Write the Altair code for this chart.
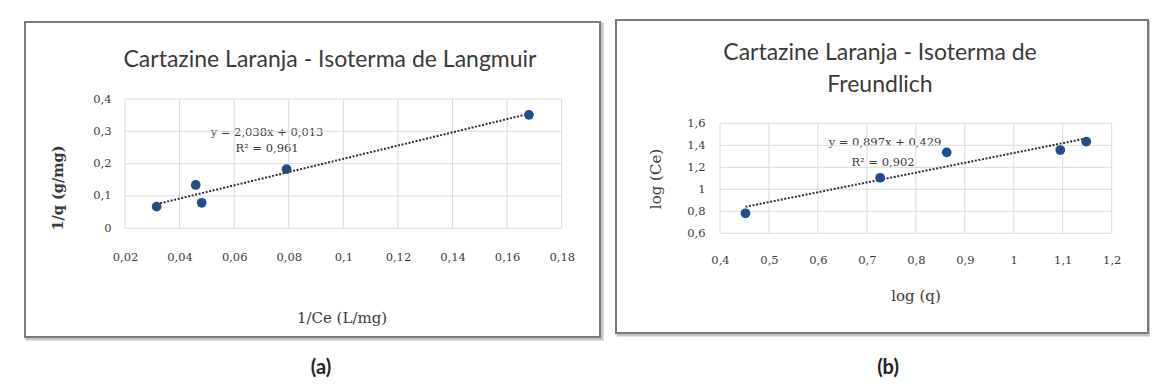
import altair as alt
import pandas as pd

# ---------------- (a) Langmuir ----------------
lang_inv_ce = [0.0316, 0.0459, 0.0481, 0.0792, 0.168]
lang_inv_q = [0.067, 0.134, 0.079, 0.183, 0.351]
lang_x_ticks = [0.02, 0.04, 0.06, 0.08, 0.1, 0.12, 0.14, 0.16, 0.18]
lang_y_ticks = [0, 0.1, 0.2, 0.3, 0.4]
lang_title = "Cartazine Laranja - Isoterma de Langmuir"
lang_xlabel = "1/Ce (L/mg)"
lang_ylabel = "1/q (g/mg)"
lang_eq = "y = 2,038x + 0,013"
lang_r2 = "R² = 0,961"

# ---------------- (b) Freundlich ----------------
fr_log_q = [0.452, 0.727, 0.863, 1.095, 1.148]
fr_log_ce = [0.782, 1.105, 1.336, 1.357, 1.433]
fr_x_ticks = [0.4, 0.5, 0.6, 0.7, 0.8, 0.9, 1.0, 1.1, 1.2]
fr_y_ticks = [0.6, 0.8, 1.0, 1.2, 1.4, 1.6]
fr_title_1 = "Cartazine Laranja - Isoterma de"
fr_title_2 = "Freundlich"
fr_xlabel = "log (q)"
fr_ylabel = "log (Ce)"
fr_eq = "y = 0,897x + 0,429"
fr_r2 = "R² = 0,902"

panel_tags = ["(a)", "(b)"]

W, H = 1142, 372
TXT = "#3a3a3a"
GRID = "#d9d9d9"
PT = "#1f4e8c"
TREND = "#2a2f3a"
SERIF = "DejaVu Serif"
SANS = "Lato"
LAB = "replace(format(datum.value, '~g'), '.', ',')"


def one_row():
    return alt.Chart(pd.DataFrame({"k": [0]}))


def txt(s, x, y, size, font, weight="normal", angle=0, color=TXT):
    return alt.Chart(pd.DataFrame({"t": [s]})).mark_text(
        font=font, fontSize=size, fontWeight=weight, color=color, angle=angle,
        align="center", baseline="middle"
    ).encode(text="t:N", x=alt.value(x), y=alt.value(y))


def frame(x0, x1, y0, y1):
    shadow = one_row().mark_rect(fill=None, stroke="#c4c4c4", strokeWidth=3).encode(
        x=alt.value(x0 + 2), x2=alt.value(x1 + 2), y=alt.value(y0 + 2), y2=alt.value(y1 + 2))
    box = one_row().mark_rect(fill="white", stroke="#7a7a7a", strokeWidth=2).encode(
        x=alt.value(x0), x2=alt.value(x1), y=alt.value(y0), y2=alt.value(y1))
    return [shadow, box]


def panel(xv, yv, xt, yt, xr, yr, xpad, ypad):
    xs = alt.Scale(domain=[xt[0], xt[-1]], range=xr, nice=False, zero=False)
    ys = alt.Scale(domain=[yt[0], yt[-1]], range=yr, nice=False, zero=False)
    common = dict(grid=False, domain=False, ticks=False, tickSize=0, labelExpr=LAB,
                  labelFlush=False, labelOverlap=False, title=None, zindex=2,
                  labelFont=SERIF, labelFontSize=11.5, labelColor=TXT)
    xa = alt.Axis(orient="bottom", offset=yr[0] - H, values=xt, labelPadding=xpad, **common)
    ya = alt.Axis(orient="left", offset=-xr[0], values=yt, labelPadding=ypad, **common)

    def X(f="x"):
        return alt.X(f, type="quantitative", scale=xs, axis=xa)

    def Y(f="y"):
        return alt.Y(f, type="quantitative", scale=ys, axis=ya)

    vgrid = alt.Chart(pd.DataFrame({"x": xt, "y": yt[0], "y2": yt[-1]})).mark_rule(
        color=GRID, strokeWidth=1).encode(x=X(), y=Y(), y2="y2:Q")
    hgrid = alt.Chart(pd.DataFrame({"y": yt, "x": xt[0], "x2": xt[-1]})).mark_rule(
        color=GRID, strokeWidth=1).encode(y=Y(), x=X(), x2="x2:Q")

    df = pd.DataFrame({"x": xv, "y": yv})
    trend = alt.Chart(df).transform_regression("x", "y").mark_line(
        color=TREND, strokeWidth=2, strokeDash=[2, 1.6]).encode(x=X(), y=Y())
    pts = alt.Chart(df).mark_point(filled=True, size=95, color=PT, opacity=1).encode(x=X(), y=Y())
    return alt.layer(vgrid, hgrid, trend, pts)


pa = panel(lang_inv_ce, lang_inv_q, lang_x_ticks, lang_y_ticks,
           [117, 553.7], [220.3, 91], 23, 14)
pb = panel(fr_log_q, fr_log_ce, fr_x_ticks, fr_y_ticks,
           [712, 1103.7], [225.3, 115.3], 21, 15)

layers = []
layers += frame(17, 592, 14, 329)
layers += frame(608, 1140, 12, 325)
layers += [
    txt(lang_title, 322, 52, 23, SANS),
    txt(lang_eq, 259, 125, 11.5, SERIF),
    txt(lang_r2, 259, 141, 11.5, SERIF),
    txt(lang_ylabel, 51, 180, 14.5, SERIF, weight="bold", angle=270),
    txt(lang_xlabel, 334, 310, 15, SERIF),
    txt(panel_tags[0], 313, 360, 20, SANS, weight="bold", color="#222222"),
    txt(fr_title_1, 872, 45, 23, SANS),
    txt(fr_title_2, 872, 77, 23, SANS),
    txt(fr_eq, 877, 135, 11.5, SERIF),
    txt(fr_r2, 875, 155, 11.5, SERIF),
    txt(fr_ylabel, 648, 171, 15, SERIF, angle=270),
    txt(fr_xlabel, 908, 288, 15, SERIF),
    txt(panel_tags[1], 880, 360, 20, SANS, weight="bold", color="#222222"),
]

chart = alt.layer(*layers, pa, pb).resolve_scale(
    x="independent", y="independent"
).properties(
    width=W, height=H, padding=0, autosize="none", background="white"
).configure_view(stroke=None)

chart.save("out.html", embed_options={"renderer": "svg", "actions": False})
